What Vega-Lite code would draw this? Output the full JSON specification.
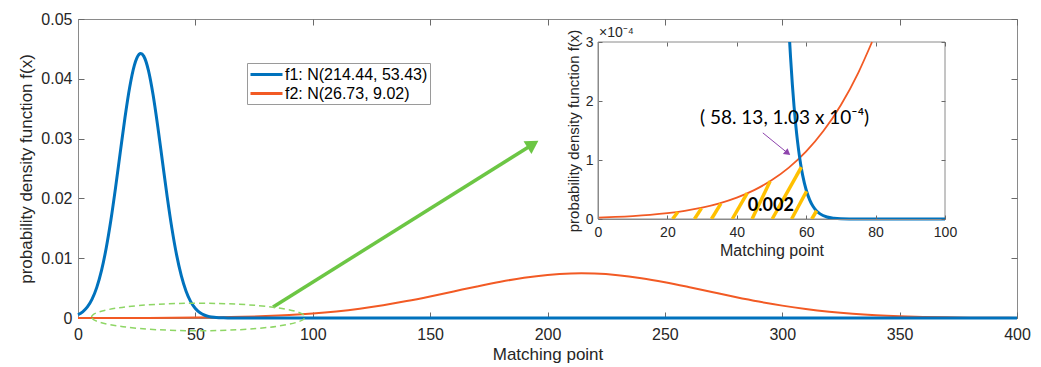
{
  "$schema": "https://vega.github.io/schema/vega-lite/v6.json",
  "width": 939,
  "height": 299,
  "autosize": "none",
  "padding": {"left": 78, "top": 19, "right": 24, "bottom": 49},
  "background": "white",
  "config": {
    "view": {"stroke": "#8a8a8a", "strokeWidth": 1},
    "axis": {"labelFont": "Liberation Sans", "titleFont": "Liberation Sans", "labelColor": "#262626", "titleColor": "#262626", "titleFontWeight": "normal", "domainColor": "#8a8a8a", "tickColor": "#6a6a6a", "grid": false, "labelFlush": false},
    "text": {"font": "Liberation Sans"}
  },
  "datasets": {
    "mainCurves": [
      {"x": 0, "y": 0.000548, "s": "f1"},
      {"x": 2, "y": 0.001031, "s": "f1"},
      {"x": 4, "y": 0.001848, "s": "f1"},
      {"x": 6, "y": 0.003153, "s": "f1"},
      {"x": 8, "y": 0.005122, "s": "f1"},
      {"x": 10, "y": 0.007919, "s": "f1"},
      {"x": 12, "y": 0.011657, "s": "f1"},
      {"x": 14, "y": 0.016337, "s": "f1"},
      {"x": 16, "y": 0.021798, "s": "f1"},
      {"x": 18, "y": 0.027688, "s": "f1"},
      {"x": 20, "y": 0.033482, "s": "f1"},
      {"x": 22, "y": 0.038546, "s": "f1"},
      {"x": 24, "y": 0.042248, "s": "f1"},
      {"x": 26, "y": 0.044083, "s": "f1"},
      {"x": 26.73, "y": 0.044228, "s": "f1"},
      {"x": 28, "y": 0.043792, "s": "f1"},
      {"x": 30, "y": 0.041415, "s": "f1"},
      {"x": 32, "y": 0.037288, "s": "f1"},
      {"x": 34, "y": 0.031963, "s": "f1"},
      {"x": 36, "y": 0.026082, "s": "f1"},
      {"x": 38, "y": 0.020263, "s": "f1"},
      {"x": 40, "y": 0.014987, "s": "f1"},
      {"x": 42, "y": 0.010552, "s": "f1"},
      {"x": 44, "y": 0.007074, "s": "f1"},
      {"x": 46, "y": 0.004515, "s": "f1"},
      {"x": 48, "y": 0.002743, "s": "f1"},
      {"x": 50, "y": 0.001587, "s": "f1"},
      {"x": 52, "y": 0.000874, "s": "f1"},
      {"x": 54, "y": 0.000458, "s": "f1"},
      {"x": 56, "y": 0.000229, "s": "f1"},
      {"x": 58, "y": 0.000109, "s": "f1"},
      {"x": 60, "y": 0.000049, "s": "f1"},
      {"x": 62, "y": 0.000021, "s": "f1"},
      {"x": 64, "y": 0.0000087, "s": "f1"},
      {"x": 66, "y": 0.0000034, "s": "f1"},
      {"x": 70, "y": 0.0000004, "s": "f1"},
      {"x": 80, "y": 0, "s": "f1"},
      {"x": 400, "y": 0, "s": "f1"},
      {"x": 0, "y": 0.0000024, "s": "f2"},
      {"x": 10, "y": 0.0000049, "s": "f2"},
      {"x": 20, "y": 0.0000099, "s": "f2"},
      {"x": 30, "y": 0.0000193, "s": "f2"},
      {"x": 40, "y": 0.0000362, "s": "f2"},
      {"x": 50, "y": 0.0000655, "s": "f2"},
      {"x": 60, "y": 0.0001145, "s": "f2"},
      {"x": 70, "y": 0.0001933, "s": "f2"},
      {"x": 80, "y": 0.000315, "s": "f2"},
      {"x": 90, "y": 0.0004957, "s": "f2"},
      {"x": 100, "y": 0.0007533, "s": "f2"},
      {"x": 110, "y": 0.0011051, "s": "f2"},
      {"x": 120, "y": 0.0015657, "s": "f2"},
      {"x": 130, "y": 0.0021418, "s": "f2"},
      {"x": 140, "y": 0.0028289, "s": "f2"},
      {"x": 150, "y": 0.0036079, "s": "f2"},
      {"x": 160, "y": 0.0044431, "s": "f2"},
      {"x": 170, "y": 0.0052832, "s": "f2"},
      {"x": 180, "y": 0.0060661, "s": "f2"},
      {"x": 190, "y": 0.006725, "s": "f2"},
      {"x": 200, "y": 0.0071988, "s": "f2"},
      {"x": 210, "y": 0.0074409, "s": "f2"},
      {"x": 214.44, "y": 0.0074666, "s": "f2"},
      {"x": 220, "y": 0.0074263, "s": "f2"},
      {"x": 230, "y": 0.0071566, "s": "f2"},
      {"x": 240, "y": 0.0066593, "s": "f2"},
      {"x": 250, "y": 0.0059834, "s": "f2"},
      {"x": 260, "y": 0.0051908, "s": "f2"},
      {"x": 270, "y": 0.0043483, "s": "f2"},
      {"x": 280, "y": 0.0035171, "s": "f2"},
      {"x": 290, "y": 0.0027469, "s": "f2"},
      {"x": 300, "y": 0.0020714, "s": "f2"},
      {"x": 310, "y": 0.0015084, "s": "f2"},
      {"x": 320, "y": 0.0010605, "s": "f2"},
      {"x": 330, "y": 0.00072, "s": "f2"},
      {"x": 340, "y": 0.000472, "s": "f2"},
      {"x": 350, "y": 0.0002988, "s": "f2"},
      {"x": 360, "y": 0.0001826, "s": "f2"},
      {"x": 370, "y": 0.0001078, "s": "f2"},
      {"x": 380, "y": 0.0000614, "s": "f2"},
      {"x": 390, "y": 0.0000338, "s": "f2"},
      {"x": 400, "y": 0.0000179, "s": "f2"}
    ],
    "insetCurves": [
      {"x": 55.235, "y": 0.0003, "s": "f1"},
      {"x": 55.5, "y": 0.00027325, "s": "f1"},
      {"x": 56, "y": 0.00022863, "s": "f1"},
      {"x": 56.5, "y": 0.00019068, "s": "f1"},
      {"x": 57, "y": 0.00015856, "s": "f1"},
      {"x": 57.5, "y": 0.00013145, "s": "f1"},
      {"x": 58, "y": 0.00010864, "s": "f1"},
      {"x": 58.5, "y": 0.0000895, "s": "f1"},
      {"x": 59, "y": 0.00007351, "s": "f1"},
      {"x": 60, "y": 0.00004914, "s": "f1"},
      {"x": 61, "y": 0.00003245, "s": "f1"},
      {"x": 62, "y": 0.00002116, "s": "f1"},
      {"x": 63, "y": 0.00001364, "s": "f1"},
      {"x": 64, "y": 0.00000868, "s": "f1"},
      {"x": 66, "y": 0.00000339, "s": "f1"},
      {"x": 68, "y": 0.00000126, "s": "f1"},
      {"x": 70, "y": 0.00000045, "s": "f1"},
      {"x": 75, "y": 0.00000003, "s": "f1"},
      {"x": 80, "y": 0, "s": "f1"},
      {"x": 100, "y": 0, "s": "f1"},
      {"x": 0, "y": 0.000002373, "s": "f2"},
      {"x": 5, "y": 0.000003439, "s": "f2"},
      {"x": 10, "y": 0.000004942, "s": "f2"},
      {"x": 15, "y": 0.000007039, "s": "f2"},
      {"x": 20, "y": 0.000009938, "s": "f2"},
      {"x": 25, "y": 0.000013911, "s": "f2"},
      {"x": 30, "y": 0.000019298, "s": "f2"},
      {"x": 35, "y": 0.000026541, "s": "f2"},
      {"x": 40, "y": 0.000036183, "s": "f2"},
      {"x": 45, "y": 0.0000489, "s": "f2"},
      {"x": 50, "y": 0.0000655, "s": "f2"},
      {"x": 55, "y": 0.00008699, "s": "f2"},
      {"x": 60, "y": 0.00011451, "s": "f2"},
      {"x": 65, "y": 0.00014943, "s": "f2"},
      {"x": 70, "y": 0.00019327, "s": "f2"},
      {"x": 75, "y": 0.00024783, "s": "f2"},
      {"x": 78.97, "y": 0.0003, "s": "f2"}
    ]
  },
  "layer": [
    {
      "layer": [
        {
          "data": {"name": "mainCurves"},
          "transform": [{"filter": "datum.s == 'f2'"}],
          "mark": {"type": "line", "interpolate": "monotone", "strokeWidth": 2},
          "encoding": {
            "x": {"field": "x", "type": "quantitative", "scale": {"domain": [0, 400], "nice": false},
              "axis": {"orient": "bottom", "values": [0, 50, 100, 150, 200, 250, 300, 350, 400], "title": "Matching point", "labelFontSize": 16, "titleFontSize": 17, "tickSize": -6, "labelPadding": 14, "titlePadding": 4}},
            "y": {"field": "y", "type": "quantitative", "scale": {"domain": [0, 0.05], "nice": false},
              "axis": {"orient": "left", "values": [0, 0.01, 0.02, 0.03, 0.04, 0.05], "format": ".2~f", "title": "probability density function f(x)", "labelFontSize": 16, "titleFontSize": 17, "tickSize": -6, "labelPadding": 12, "titlePadding": 5}},
            "color": {"field": "s", "type": "nominal",
              "scale": {"domain": ["f1", "f2"], "range": ["#0072BD", "#F25A24"]},
              "legend": {"orient": "none", "legendX": 169, "legendY": 44, "title": null, "symbolType": "M-1,0L3,0", "symbolSize": 256, "symbolStrokeWidth": 3, "labelFont": "Liberation Sans", "labelFontSize": 16, "labelColor": "#000000", "labelOffset": 17, "strokeColor": "#9a9a9a", "fillColor": "white", "padding": 2, "rowPadding": 1,
                "labelExpr": "datum.label == 'f1' ? 'f1: N(214.44, 53.43)' : 'f2: N(26.73, 9.02)'"}}
          }
        },
        {
          "data": {"name": "mainCurves"},
          "transform": [{"filter": "datum.s == 'f1'"}],
          "mark": {"type": "line", "interpolate": "monotone", "strokeWidth": 3},
          "encoding": {
            "x": {"field": "x", "type": "quantitative"},
            "y": {"field": "y", "type": "quantitative"},
            "color": {"field": "s", "type": "nominal"}
          }
        },
        {
          "data": {"values": [{"x": 83.1, "y": 0.00184, "x2": 193.8, "y2": 0.02906}]},
          "mark": {"type": "rule", "color": "#6CC644", "strokeWidth": 3.5},
          "encoding": {
            "x": {"field": "x", "type": "quantitative"},
            "y": {"field": "y", "type": "quantitative"},
            "x2": {"field": "x2"},
            "y2": {"field": "y2"}
          }
        },
        {
          "data": {"values": [{"x": 193.8, "y": 0.02906}]},
          "mark": {"type": "point", "shape": "triangle-up", "filled": true, "color": "#6CC644", "size": 220, "angle": 58, "opacity": 1},
          "encoding": {
            "x": {"field": "x", "type": "quantitative"},
            "y": {"field": "y", "type": "quantitative"}
          }
        },
        {
          "data": {"values": [{"x": 51.25, "y": 0.00017}]},
          "mark": {"type": "point", "shape": "M-1,0A1,0.129,0,1,1,1,0A1,0.129,0,1,1,-1,0Z", "filled": false, "stroke": "#8ED665", "strokeWidth": 1.5, "strokeDash": [6, 4], "size": 45540, "opacity": 1},
          "encoding": {
            "x": {"field": "x", "type": "quantitative"},
            "y": {"field": "y", "type": "quantitative"}
          }
        }
      ]
    },
    {
      "data": {"values": [{"x": 0, "y": 0}]},
      "mark": {"type": "point", "opacity": 0},
      "encoding": {
        "x": {"field": "x", "type": "quantitative", "scale": {"domain": [0, 400], "nice": false},
          "axis": {"orient": "top", "values": [0, 50, 100, 150, 200, 250, 300, 350, 400], "labels": false, "domain": false, "tickSize": -6, "title": null}},
        "y": {"field": "y", "type": "quantitative", "scale": {"domain": [0, 0.05], "nice": false},
          "axis": {"orient": "right", "values": [0, 0.01, 0.02, 0.03, 0.04, 0.05], "labels": false, "domain": false, "tickSize": -6, "title": null}}
      }
    },
    {
      "layer": [
        {
          "data": {"values": [{"x": 0, "x2": 100, "y": 0, "y2": 0.0003}]},
          "mark": {"type": "rect", "fill": "white", "stroke": "#8a8a8a", "strokeWidth": 1},
          "encoding": {
            "x": {"field": "x", "type": "quantitative", "scale": {"domain": [0, 100], "range": [520, 867], "nice": false},
              "axis": {"orient": "bottom", "offset": -99, "zindex": 1, "values": [0, 20, 40, 60, 80, 100], "title": "Matching point", "labelFontSize": 14, "titleFontSize": 16, "tickSize": -4, "labelPadding": 10, "titlePadding": 3}},
            "x2": {"field": "x2"},
            "y": {"field": "y", "type": "quantitative", "scale": {"domain": [0, 0.0003], "range": [200, 23], "nice": false},
              "axis": {"orient": "left", "offset": -520, "zindex": 1, "values": [0, 0.0001, 0.0002, 0.0003], "labelExpr": "format(round(datum.value * 10000), 'd')", "title": "probability density function f(x)", "labelFontSize": 14, "titleFontSize": 15, "tickSize": -4, "labelPadding": 9, "titlePadding": 4}},
            "y2": {"field": "y2"}
          }
        },
        {
          "data": {"name": "insetCurves"},
          "transform": [{"filter": "datum.s == 'f2'"}],
          "mark": {"type": "line", "interpolate": "monotone", "strokeWidth": 1.8, "color": "#F25A24"},
          "encoding": {
            "x": {"field": "x", "type": "quantitative"},
            "y": {"field": "y", "type": "quantitative"}
          }
        },
        {
          "data": {"name": "insetCurves"},
          "transform": [{"filter": "datum.s == 'f1'"}],
          "mark": {"type": "line", "interpolate": "monotone", "strokeWidth": 3, "color": "#0072BD"},
          "encoding": {
            "x": {"field": "x", "type": "quantitative"},
            "y": {"field": "y", "type": "quantitative"}
          }
        },
        {
          "data": {"values": [
            {"x": 21.5, "y": 0, "x2": 23.0, "y2": 0.000012},
            {"x": 27.8, "y": 0, "x2": 29.8, "y2": 0.000018},
            {"x": 32.7, "y": 0, "x2": 35.4, "y2": 0.000026},
            {"x": 38.7, "y": 0, "x2": 43.0, "y2": 0.000044},
            {"x": 44.4, "y": 0, "x2": 49.6, "y2": 0.000064},
            {"x": 50.2, "y": 0, "x2": 58.6, "y2": 0.000088},
            {"x": 55.8, "y": 0, "x2": 60.1, "y2": 0.000047},
            {"x": 61.6, "y": 0, "x2": 63.0, "y2": 0.000014}
          ]},
          "mark": {"type": "rule", "color": "#FFC000", "strokeWidth": 3.5},
          "encoding": {
            "x": {"field": "x", "type": "quantitative"},
            "y": {"field": "y", "type": "quantitative"},
            "x2": {"field": "x2"},
            "y2": {"field": "y2"}
          }
        },
        {
          "data": {"values": [{"x": 49.8, "y": 0.000022, "t": "0.002"}]},
          "mark": {"type": "text", "font": "Lato", "fontWeight": "bold", "fontSize": 18, "color": "#000000", "align": "center", "baseline": "middle"},
          "encoding": {
            "x": {"field": "x", "type": "quantitative"},
            "y": {"field": "y", "type": "quantitative"},
            "text": {"field": "t"}
          }
        },
        {
          "data": {"values": [{"x": 29.4, "y": 0.000171, "t": "( 58. 13, 1.03 x 10⁻⁴)"}]},
          "mark": {"type": "text", "font": "Lato", "fontSize": 19, "color": "#000000", "align": "left", "baseline": "middle"},
          "encoding": {
            "x": {"field": "x", "type": "quantitative"},
            "y": {"field": "y", "type": "quantitative"},
            "text": {"field": "t"}
          }
        },
        {
          "data": {"values": [{"x": 0.3, "y": 0.000308, "t": "×10⁻⁴"}]},
          "mark": {"type": "text", "font": "Liberation Sans", "fontSize": 14, "color": "#262626", "align": "left", "baseline": "alphabetic"},
          "encoding": {
            "x": {"field": "x", "type": "quantitative"},
            "y": {"field": "y", "type": "quantitative"},
            "text": {"field": "t"}
          }
        },
        {
          "data": {"values": [{"x": 47.5, "y": 0.000146, "x2": 54.67, "y2": 0.0001117}]},
          "mark": {"type": "rule", "color": "#8E44AD", "strokeWidth": 1},
          "encoding": {
            "x": {"field": "x", "type": "quantitative"},
            "y": {"field": "y", "type": "quantitative"},
            "x2": {"field": "x2"},
            "y2": {"field": "y2"}
          }
        },
        {
          "data": {"values": [{"x": 54.67, "y": 0.0001117}]},
          "mark": {"type": "point", "shape": "triangle-up", "filled": true, "color": "#8E44AD", "size": 55, "angle": 129, "opacity": 1},
          "encoding": {
            "x": {"field": "x", "type": "quantitative"},
            "y": {"field": "y", "type": "quantitative"}
          }
        }
      ]
    },
    {
      "data": {"values": [{"x": 0, "y": 0}]},
      "mark": {"type": "point", "opacity": 0},
      "encoding": {
        "x": {"field": "x", "type": "quantitative", "scale": {"domain": [0, 100], "range": [520, 867], "nice": false},
          "axis": {"orient": "top", "offset": -23, "zindex": 1, "values": [0, 20, 40, 60, 80, 100], "labels": false, "domain": false, "tickSize": -4, "title": null}},
        "y": {"field": "y", "type": "quantitative", "scale": {"domain": [0, 0.0003], "range": [200, 23], "nice": false},
          "axis": {"orient": "right", "offset": -72, "zindex": 1, "values": [0, 0.0001, 0.0002, 0.0003], "labels": false, "domain": false, "tickSize": -4, "title": null}}
      }
    }
  ],
  "resolve": {
    "scale": {"x": "independent", "y": "independent"},
    "axis": {"x": "independent", "y": "independent"}
  }
}
